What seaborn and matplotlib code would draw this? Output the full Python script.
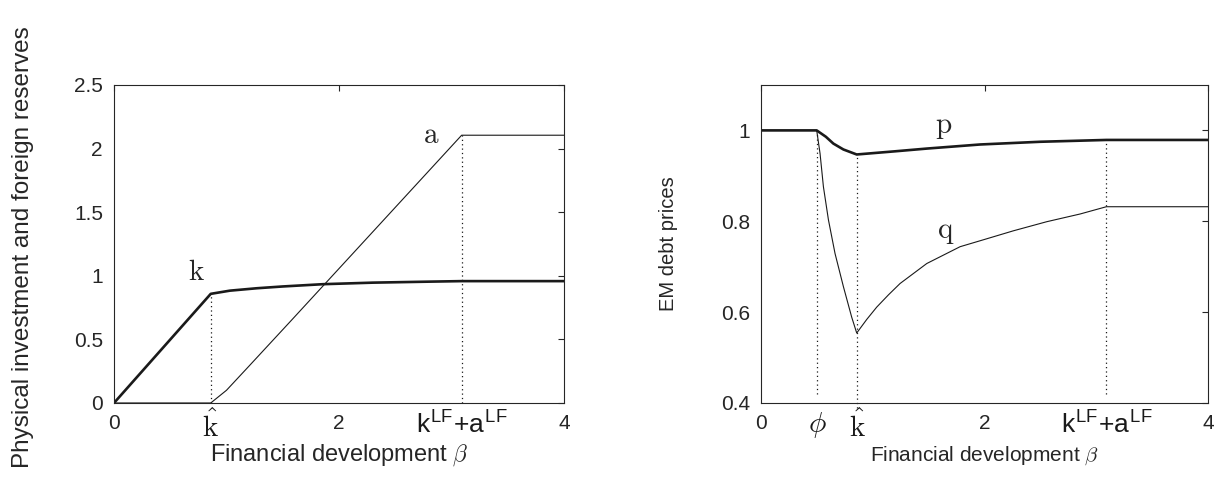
import numpy as np
import pandas as pd
import matplotlib as mpl
mpl.use("Agg")
import matplotlib.pyplot as plt
import seaborn as sns

# values
khat = 0.86
kLF_aLF = 3.09
phi = 0.5

beta_k = [0, 0.86, 1.03, 1.27, 1.5, 1.86, 2.3, 2.81, 3.09, 4.0]
k_vals = [0, 0.858, 0.883, 0.902, 0.916, 0.934, 0.946, 0.954, 0.958, 0.958]

beta_a = [0, 0.86, 1.0, 1.2, 1.58, 2.07, 3.09, 4.0]
a_vals = [0, 0, 0.10, 0.29, 0.653, 1.124, 2.105, 2.105]

beta_p = [0, 0.498, 0.58, 0.647, 0.737, 0.856, 1.2, 1.483, 1.96, 2.5, 3.09, 4.0]
p_vals = [1, 1, 0.986, 0.971, 0.958, 0.947, 0.954, 0.960, 0.969, 0.975, 0.979, 0.979]

beta_q = [0, 0.498, 0.528, 0.558, 0.603, 0.662, 0.737, 0.811, 0.856, 0.946,
          1.035, 1.14, 1.244, 1.483, 1.781, 2.0, 2.258, 2.556, 2.855, 3.09, 4.0]
q_vals = [1, 1, 0.949, 0.876, 0.803, 0.729, 0.656, 0.589, 0.554, 0.584,
          0.611, 0.638, 0.663, 0.707, 0.744, 0.760, 0.779, 0.799, 0.816, 0.832, 0.832]

left_yticks = [0, 0.5, 1, 1.5, 2, 2.5]
left_yticklabels = ['0', '0.5', '1', '1.5', '2', '2.5']
right_yticks = [0.4, 0.6, 0.8, 1]
right_yticklabels = ['0.4', '0.6', '0.8', '1']
khat_label = r'$\hat{\mathrm{k}}$'
klf_label = r'k$^{\mathregular{LF}}$+a$^{\mathregular{LF}}$'
phi_label = r'$\phi$'

sns.set_theme(style='white')
plt.rcParams['font.family'] = ['Liberation Sans', 'DejaVu Sans']
plt.rcParams['mathtext.fontset'] = 'cm'
gray = '#262626'
dots = (0, (1, 2.5))

fig = plt.figure(figsize=(12.14, 4.79), dpi=100)
ax1 = fig.add_axes([0.0939, 0.1587, 0.3707, 0.6639])
ax2 = fig.add_axes([0.6269, 0.1587, 0.3682, 0.6639])

for ax in (ax1, ax2):
    for s in ax.spines.values():
        s.set_color(gray)
        s.set_linewidth(0.8)
    ax.tick_params(which='major', direction='in', top=True, right=True,
                   length=4, width=0.8, color=gray, labelcolor=gray,
                   labelsize=15)
    ax.tick_params(axis='x', which='major', pad=8)
    ax.tick_params(axis='y', which='major', pad=8)
    ax.set_xlim(0, 4)
    ax.set_xticks([0, 2, 4], labels=['0', '2', '4'])


def special_ticks(ax, pos, labels, sizes):
    ax.set_xticks(pos, labels=labels, minor=True)
    ax.tick_params(axis='x', which='minor', length=0, labelcolor='k', pad=5)
    for t, s in zip(ax.get_xticklabels(minor=True), sizes):
        t.set_fontsize(s)


# left panel
sns.lineplot(x=beta_k, y=k_vals, ax=ax1, color='k', lw=1.9, estimator=None)
sns.lineplot(x=beta_a, y=a_vals, ax=ax1, color='k', lw=0.8, estimator=None)
ax1.vlines(khat, 0, k_vals[1], colors='k', linestyles=dots, lw=0.9)
ax1.vlines(kLF_aLF, 0, a_vals[-1], colors='k', linestyles=dots, lw=0.9)
ax1.set_ylim(0, 2.5)
ax1.set_yticks(left_yticks, labels=left_yticklabels)
special_ticks(ax1, [khat, kLF_aLF], [khat_label, klf_label], [21, 19])
ax1.text(0.735, 1.03, r'$\mathrm{k}$', fontsize=21, ha='center', va='center')
ax1.text(2.82, 2.11, r'$\mathrm{a}$', fontsize=21, ha='center', va='center')
ax1.set_xlabel(r'Financial development $\beta$', fontsize=17, color=gray)
ax1.xaxis.set_label_coords(0.5, -0.125)
ax1.set_ylabel('Physical investment and foreign reserves', fontsize=17.5, color=gray)
ax1.yaxis.set_label_coords(-0.177, 0.49)

# right panel
sns.lineplot(x=beta_p, y=p_vals, ax=ax2, color='k', lw=1.9, estimator=None)
sns.lineplot(x=beta_q, y=q_vals, ax=ax2, color='k', lw=0.8, estimator=None)
ax2.vlines(phi, 0.42, 1.0, colors='k', linestyles=dots, lw=0.9)
ax2.vlines(khat, 0.39, p_vals[5], colors='k', linestyles=dots, lw=0.9,
           clip_on=False)
ax2.vlines(kLF_aLF, 0.42, p_vals[-1], colors='k', linestyles=dots, lw=0.9)
ax2.set_ylim(0.4, 1.1)
ax2.set_yticks(right_yticks, labels=right_yticklabels)
special_ticks(ax2, [phi, khat, kLF_aLF], [phi_label, khat_label, klf_label], [21, 21, 19])
ax2.text(1.63, 1.008, r'$\mathrm{p}$', fontsize=21, ha='center', va='center')
ax2.text(1.65, 0.777, r'$\mathrm{q}$', fontsize=21, ha='center', va='center')
ax2.set_xlabel(r'Financial development $\beta$', fontsize=15, color=gray)
ax2.xaxis.set_label_coords(0.5, -0.13)
ax2.set_ylabel('EM debt prices', fontsize=14.5, color=gray)
ax2.yaxis.set_label_coords(-0.185, 0.5)

fig.savefig('out.png', dpi=100)
